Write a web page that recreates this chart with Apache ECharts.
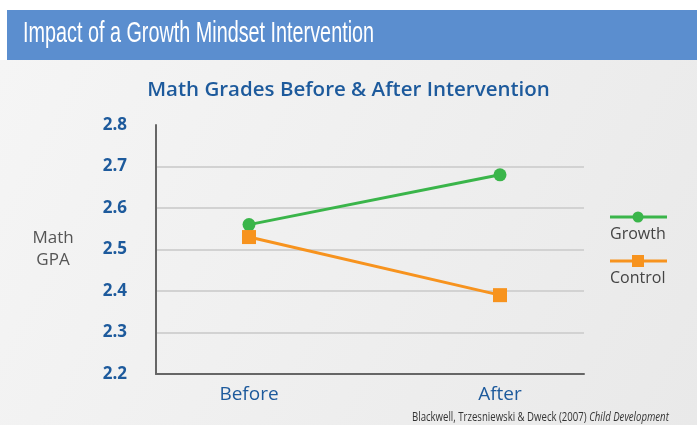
<!DOCTYPE html>
<html><head><meta charset="utf-8">
<script src="https://cdn.jsdelivr.net/npm/echarts@6/dist/echarts.min.js"></script>
<style>html,body{margin:0;padding:0;background:#fff}#c{width:697px;height:425px}</style>
</head><body><div id="c"></div>
<script>
const categories = ['Before', 'After'];
const growth = [2.56, 2.68];
const control = [2.53, 2.39];
const yMin = 2.2, yMax = 2.8, yStep = 0.1;

const chart = echarts.init(document.getElementById('c'), null, {renderer: 'canvas'});
const gridTop = 125, gridBottom = 51;
const yAxisBase = {type: 'value', min: yMin, max: yMax, interval: yStep};
chart.setOption({
  animation: false,
  backgroundColor: '#fff',
  graphic: [
    {type: 'rect', shape: {x: 0, y: 60, width: 697, height: 365}, style: {fill: new echarts.graphic.LinearGradient(0, 0, 1, 1, [{offset: 0, color: '#f5f5f5'}, {offset: 1, color: '#e9e9e9'}])}, z: -10},
    {type: 'rect', shape: {x: 7, y: 10, width: 690, height: 50}, style: {fill: '#5b8ecf'}, z: -5},
    {type: 'text', x: 23, y: 34, scaleX: 0.66, style: {text: 'Impact of a Growth Mindset Intervention', fill: '#fff', font: '30px "Liberation Sans Narrow", "Liberation Sans", sans-serif', verticalAlign: 'middle'}},
    {type: 'text', left: 'center', top: 80, style: {text: 'Math Grades Before & After Intervention', fill: '#1d5a9c', font: '600 20.5px "Open Sans", sans-serif'}},
    {type: 'text', x: 53, y: 249, style: {text: 'Math\nGPA', fill: '#555', font: '17px "Open Sans", sans-serif', align: 'center', verticalAlign: 'middle', lineHeight: 22}},
    {type: 'line', shape: {x1: 610, y1: 217, x2: 667, y2: 217}, style: {stroke: '#3ab54a', lineWidth: 3}},
    {type: 'circle', shape: {cx: 638, cy: 217, r: 5.5}, style: {fill: '#3ab54a'}},
    {type: 'text', x: 610, y: 234, style: {text: 'Growth', fill: '#444', font: '16px "Open Sans", sans-serif', verticalAlign: 'middle'}},
    {type: 'line', shape: {x1: 610, y1: 261, x2: 667, y2: 261}, style: {stroke: '#f7931e', lineWidth: 3}},
    {type: 'rect', shape: {x: 632, y: 255, width: 12, height: 12}, style: {fill: '#f7931e'}},
    {type: 'text', x: 610, y: 278, style: {text: 'Control', fill: '#444', font: '16px "Open Sans", sans-serif', verticalAlign: 'middle'}},
    {type: 'text', x: 412, y: 418, scaleX: 0.8, style: {text: 'Blackwell, Trzesniewski & Dweck (2007) {i|Child Development}', fill: '#333', font: '12px "Open Sans", sans-serif', verticalAlign: 'middle', rich: {i: {fontStyle: 'italic', fontSize: 12, fontFamily: 'Open Sans', fill: '#333'}}}}
  ],
  grid: [
    {left: 156, right: 113, top: gridTop, bottom: gridBottom},
    {left: 249, right: 197, top: gridTop, bottom: gridBottom}
  ],
  xAxis: [
    {type: 'value', gridIndex: 0, min: 0, max: 1, axisLine: {show: true, onZero: false, lineStyle: {color: '#666', width: 2}}, axisTick: {show: false}, axisLabel: {show: false}, splitLine: {show: false}},
    {type: 'category', gridIndex: 1, data: categories, boundaryGap: false, axisLine: {show: false}, axisTick: {show: false}, splitLine: {show: false},
     axisLabel: {color: '#1d5a9c', fontSize: 19, fontFamily: 'Open Sans', margin: 11}}
  ],
  yAxis: [
    Object.assign({}, yAxisBase, {gridIndex: 0, axisLine: {show: true, lineStyle: {color: '#666', width: 2}}, axisTick: {show: false},
      axisLabel: {color: '#1d5a9c', fontSize: 17, fontWeight: 'bold', fontFamily: 'Open Sans', margin: 29, formatter: v => v.toFixed(1)},
      splitLine: {show: true, showMinLine: false, showMaxLine: false, lineStyle: {color: '#d2d2d2', width: 2}}}),
    Object.assign({}, yAxisBase, {gridIndex: 1, show: false, splitLine: {show: false}})
  ],
  series: [
    {name: 'Growth', type: 'line', xAxisIndex: 1, yAxisIndex: 1, data: growth, symbol: 'circle', symbolSize: 13, lineStyle: {color: '#3ab54a', width: 3}, itemStyle: {color: '#3ab54a'}},
    {name: 'Control', type: 'line', xAxisIndex: 1, yAxisIndex: 1, data: control, symbol: 'rect', symbolSize: 14, lineStyle: {color: '#f7931e', width: 3}, itemStyle: {color: '#f7931e'}}
  ]
});
</script></body></html>
